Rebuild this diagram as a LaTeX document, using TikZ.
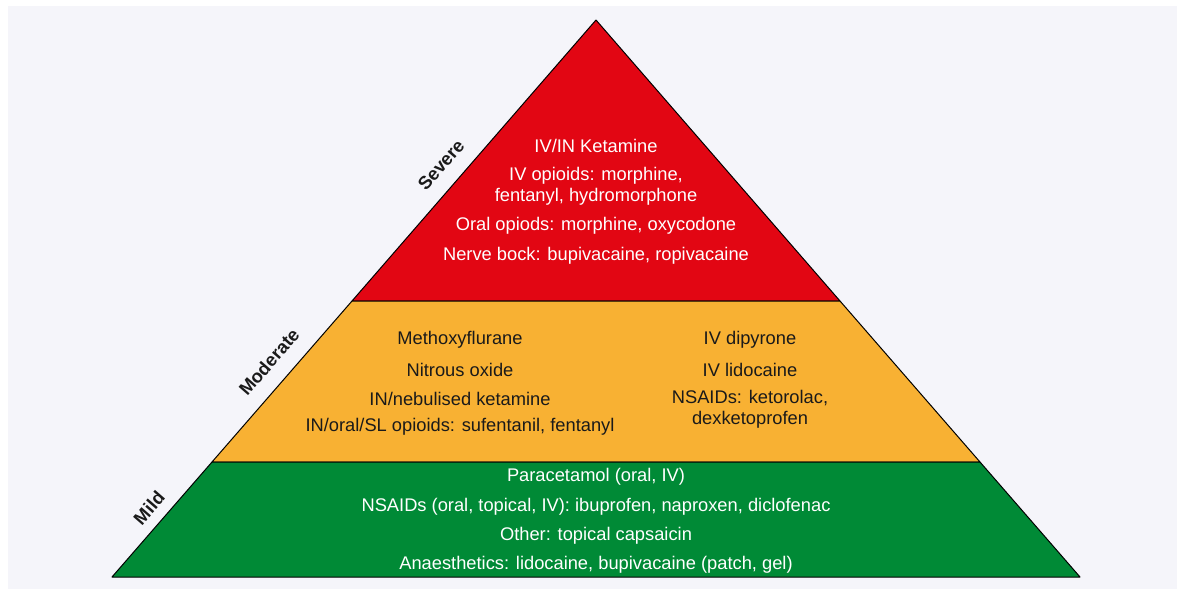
\documentclass[tikz,border=0pt]{standalone}
\usepackage{fontspec}
\setmainfont{Liberation Sans}
\usetikzlibrary{calc, positioning}
\definecolor{severe}{HTML}{E20613}
\definecolor{moderate}{HTML}{F8B133}
\definecolor{mild}{HTML}{008A36}
\definecolor{panel}{HTML}{F5F5FA}
\definecolor{ink}{HTML}{1A1A1A}
\tikzstyle{band}=[draw=black, line width=1pt, line join=round]
\tikzstyle{drug}=[inner sep=0pt, align=center, font=\fontsize{18.3}{21}\selectfont]
\tikzstyle{level}=[inner sep=0pt, rotate=49, text=ink, font=\fontsize{18.3}{21}\selectfont\bfseries]

\begin{document}
\begin{tikzpicture}[x=1pt, y=-1pt]
\useasboundingbox (0,0) rectangle (1177,589);
\fill[panel] (8,6) rectangle (1177,589);

\coordinate (top) at (596,20);
\coordinate (sl) at (352,301);\coordinate (sr) at (840,301);
\coordinate (ml) at (212,462);\coordinate (mr) at (980,462);
\coordinate (bl) at (112,577);\coordinate (br) at (1080,577);
\draw[band, fill=severe] (top) -- (sr) -- (sl) -- cycle;
\draw[band, fill=moderate] (sl) -- (sr) -- (mr) -- (ml) -- cycle;
\draw[band, fill=mild] (ml) -- (mr) -- (br) -- (bl) -- cycle;

\tikzstyle{every node}=[drug];
\node[text=white] (ket) at (596,146) {IV/IN Ketamine};
\node[text=white] (ivop) at (596,186) {IV opioids: morphine,\\fentanyl, hydromorphone};
\node[text=white] (oral) at (596,226) {Oral opiods: morphine, oxycodone};
\node[text=white] (nerve) at (596,256) {Nerve bock: bupivacaine, ropivacaine};

\node[text=ink] (metho) at (460,340) {Methoxyflurane};
\node[text=ink] (nitro) at (460,370) {Nitrous oxide};
\node[text=ink] (neb) at (460,399) {IN/nebulised ketamine};
\node[text=ink] (insl) at (460,427) {IN/oral/SL opioids: sufentanil, fentanyl};
\node[text=ink] (dipy) at (750,340) {IV dipyrone};
\node[text=ink] (lido) at (750,370) {IV lidocaine};
\node[text=ink] (nsk) at (750,409) {NSAIDs: ketorolac,\\dexketoprofen};

\node[text=white] (para) at (596,477) {Paracetamol (oral, IV)};
\node[text=white] (nsm) at (596,507) {NSAIDs (oral, topical, IV): ibuprofen, naproxen, diclofenac};
\node[text=white] (caps) at (596,536) {Other: topical capsaicin};
\node[text=white] (anae) at (596,565) {Anaesthetics: lidocaine, bupivacaine (patch, gel)};

\node[level] (sev) at (441,165) {Severe};
\node[level] (mod) at (269,362) {Moderate};
\node[level] (mild) at (149,508) {Mild};
\end{tikzpicture}
\end{document}
